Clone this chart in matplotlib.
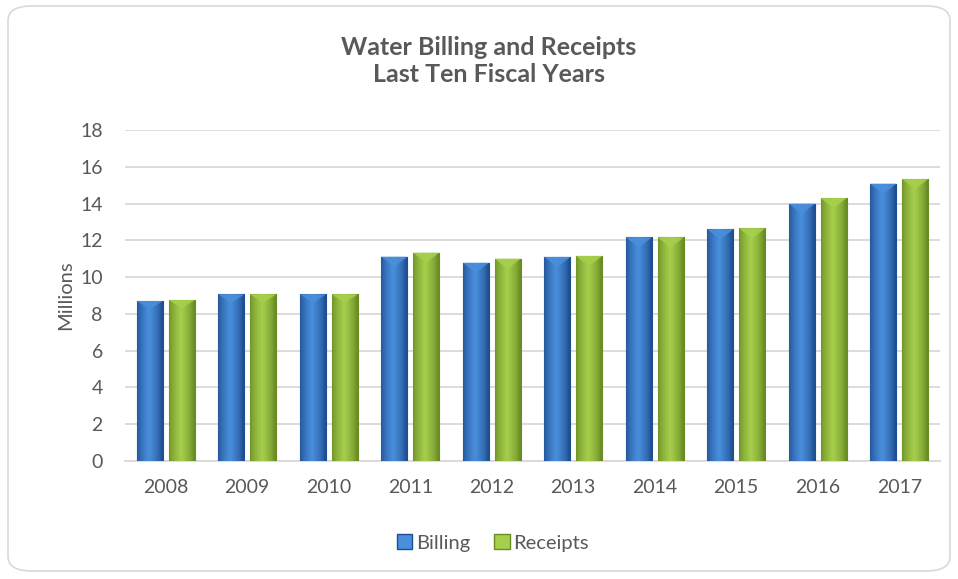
import numpy as np
import matplotlib
matplotlib.use('Agg')
from matplotlib import pyplot as plt
from matplotlib.patches import FancyBboxPatch

plt.rcParams['font.family'] = ['Lato', 'DejaVu Sans']

years = ['2008', '2009', '2010', '2011', '2012', '2013', '2014', '2015', '2016', '2017']
billing = [8.70, 9.06, 9.06, 11.11, 10.78, 11.10, 12.16, 12.60, 13.99, 15.08]
receipts = [8.75, 9.06, 9.06, 11.33, 11.00, 11.15, 12.16, 12.65, 14.30, 15.33]

textColor = '#595959'
gridColor = '#d9d9d9'
blueDark, blueLight = '#1f4f91', '#4a8fdc'
greenDark, greenLight = '#6a8c24', '#a6cf4c'


def gradient_bar(ax, x, h, w, dark, light):
    """Draw one bar with a horizontal shading like the office bevel style."""
    bar = ax.bar(x, h, width=w, color=light, edgecolor=dark, linewidth=0.8, zorder=3)[0]
    c1 = np.array(matplotlib.colors.to_rgb(dark))
    c2 = np.array(matplotlib.colors.to_rgb(light))
    t = np.linspace(0, 1, 64)
    prof = np.clip(1 - np.abs(t - 0.45) * 2.1, 0, 1) ** 0.7
    img = c1[None, :] * (1 - prof[:, None]) + c2[None, :] * prof[:, None]
    im = ax.imshow(img[None, :, :], extent=(x - w / 2, x + w / 2, 0, h),
                   aspect='auto', zorder=3.5, interpolation='bilinear')
    im.set_clip_path(bar)
    # light chevron at the top of the bar
    tip = min(0.55, h * 0.05)
    ax.fill([x - w / 2, x + w / 2, x], [h, h, h - tip], color=light, alpha=0.9,
            zorder=4, lw=0)


fig = plt.figure(figsize=(9.58, 5.79), dpi=100)
frame = FancyBboxPatch((8 / 958, 8 / 579), 942 / 958, 565 / 579,
                       boxstyle='round,pad=0,rounding_size=0.025',
                       transform=fig.transFigure, facecolor='white',
                       edgecolor='#d9d9d9', linewidth=1.2, zorder=-5)
fig.patches.append(frame)

ax = fig.add_axes([125 / 958, 118 / 579, 815 / 958, 331 / 579])
ax.set_facecolor('none')

x = np.arange(len(years))
w = 0.32
off = 0.195
for i in range(len(years)):
    gradient_bar(ax, x[i] - off, billing[i], w, blueDark, blueLight)
    gradient_bar(ax, x[i] + off, receipts[i], w, greenDark, greenLight)

ax.set_xlim(-0.5, len(years) - 0.5)
ax.set_ylim(0, 18)
ax.set_yticks(np.arange(0, 19, 2))
ax.set_xticks(x)
ax.set_xticklabels(years)
ax.yaxis.grid(True, color=gridColor, linewidth=1.3, zorder=0)
ax.set_axisbelow(True)
for s in ['top', 'right', 'left']:
    ax.spines[s].set_visible(False)
ax.spines['bottom'].set_color(gridColor)
ax.spines['bottom'].set_linewidth(1.3)
ax.tick_params(axis='both', length=0, labelsize=14, labelcolor=textColor)
ax.tick_params(axis='x', pad=13)
ax.tick_params(axis='y', pad=16)
ax.set_ylabel('Millions', fontsize=14.5, color=textColor, labelpad=4)

fig.text(489 / 958, 1 - 61 / 579, 'Water Billing and Receipts\nLast Ten Fiscal Years',
         ha='center', va='center', fontsize=18, fontweight='bold',
         color=textColor, linespacing=1.25)

h1 = plt.Rectangle((0, 0), 1, 1, facecolor=blueLight, edgecolor=blueDark)
h2 = plt.Rectangle((0, 0), 1, 1, facecolor=greenLight, edgecolor=greenDark)
fig.legend([h1, h2], ['Billing', 'Receipts'], loc='center',
           bbox_to_anchor=(493 / 958, 1 - 543 / 579), ncol=2, frameon=False,
           fontsize=14.5, labelcolor=textColor, handlelength=0.75, handleheight=0.75,
           handletextpad=0.2, columnspacing=1.2)

fig.savefig('out.png', dpi=100)
